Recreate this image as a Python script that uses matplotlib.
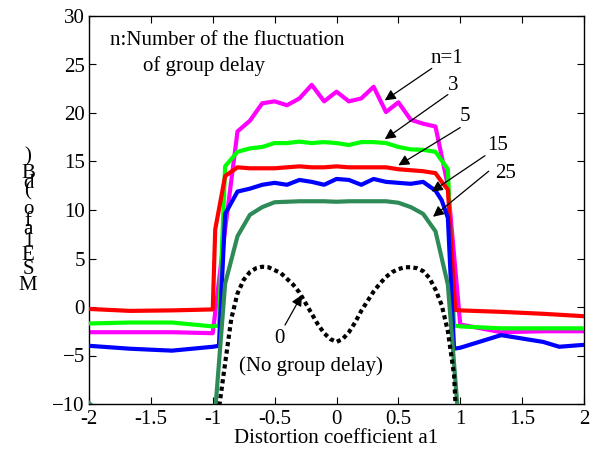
import matplotlib
matplotlib.use("Agg")
import matplotlib.pyplot as plt

plt.rcParams["font.family"] = ["Liberation Serif", "DejaVu Serif"]

# n = 1
x_n1 = [-2, -1.67, -1.33, -1.0, -0.9, -0.8, -0.7, -0.6, -0.5, -0.4, -0.3, -0.2, -0.1, 0.0,
        0.1, 0.2, 0.3, 0.4, 0.5, 0.6, 0.7, 0.8, 0.9, 1.0, 1.33, 1.67, 2]
y_n1 = [-2.6, -2.6, -2.6, -2.7, 8.0, 18.1, 19.2, 21.0, 21.2, 20.8, 21.5, 22.9, 21.2, 22.2,
        21.2, 21.5, 22.7, 20.1, 21.1, 19.3, 18.9, 18.6, 12.5, -1.8, -2.6, -2.5, -2.5]

# n = 3
x_n3 = [-2, -1.67, -1.33, -1.0, -0.95, -0.9, -0.8, -0.7, -0.6, -0.5, -0.4, -0.3, -0.2, -0.1, 0.0,
        0.1, 0.2, 0.3, 0.4, 0.5, 0.6, 0.7, 0.8, 0.85, 0.9, 0.95, 1.0, 1.33, 1.67, 2]
y_n3 = [-1.7, -1.6, -1.6, -2.0, -1.9, 14.5, 16.0, 16.35, 16.5, 16.9, 16.9, 17.05, 16.9, 17.0, 16.9,
        16.7, 17.0, 17.0, 16.9, 16.5, 16.25, 16.2, 16.0, 15.1, 14.2, -1.9, -2.0, -2.2, -2.2, -2.2]

# n = 5
x_n5 = [-2, -1.67, -1.33, -1.0, -0.98, -0.9, -0.8, -0.7, -0.6, -0.5, -0.4, -0.3, -0.2, -0.1, 0.0,
        0.1, 0.2, 0.3, 0.4, 0.5, 0.6, 0.7, 0.8, 0.85, 0.9, 0.96, 1.0, 1.33, 1.67, 2]
y_n5 = [-0.2, -0.4, -0.35, -0.25, 8.0, 13.5, 14.4, 14.3, 14.3, 14.3, 14.4, 14.5, 14.4, 14.4, 14.5,
        14.4, 14.4, 14.4, 14.4, 14.2, 14.1, 14.0, 13.8, 12.9, 12.1, -0.3, -0.35, -0.5, -0.7, -0.95]

# n = 15
x_n15 = [-2, -1.67, -1.33, -1.0, -0.95, -0.9, -0.8, -0.7, -0.6, -0.5, -0.4, -0.3, -0.2, -0.1, 0.0,
         0.1, 0.2, 0.3, 0.4, 0.5, 0.6, 0.7, 0.8, 0.85, 0.9, 0.95, 1.0, 1.33, 1.67, 1.8, 2]
y_n15 = [-4.0, -4.3, -4.5, -4.1, -4.0, 9.6, 11.9, 12.2, 12.6, 12.8, 12.6, 13.1, 12.9, 12.6, 13.2,
         13.1, 12.6, 13.2, 12.9, 12.8, 12.7, 12.9, 12.0, 11.0, 9.2, -4.3, -4.2, -2.9, -3.6, -4.1, -3.9]

# n = 25
x_n25 = [-2, -1.67, -1.0, -0.9, -0.8, -0.7, -0.6, -0.5, -0.4, -0.3, -0.2, -0.1, 0.0,
         0.1, 0.2, 0.3, 0.4, 0.5, 0.6, 0.7, 0.8, 0.9, 1.0, 1.5, 2]
y_n25 = [-9.9, -14.0, -14.0, 2.4, 7.3, 9.5, 10.3, 10.8, 10.85, 10.9, 10.9, 10.9, 10.85,
         10.9, 10.9, 10.9, 10.9, 10.75, 10.3, 9.6, 7.8, 2.3, -14.0, -14.0, -14.0]

# n = 0 (no group delay)
x_n0 = [-1.0, -0.95, -0.9, -0.85, -0.8, -0.75, -0.7, -0.65, -0.6, -0.55, -0.5, -0.45, -0.4, -0.35,
        -0.3, -0.25, -0.2, -0.15, -0.1, -0.05, 0.0, 0.05, 0.1, 0.15, 0.2, 0.25, 0.3, 0.35, 0.4,
        0.45, 0.5, 0.55, 0.6, 0.65, 0.7, 0.75, 0.8, 0.85, 0.9, 0.95, 1.0]
y_n0 = [-20.0, -10.5, -5.8, -1.2, 1.4, 2.8, 3.6, 4.0, 4.15, 4.1, 3.8, 3.5, 2.9, 2.3,
        1.5, 0.4, -0.7, -1.8, -2.7, -3.3, -3.6, -3.3, -2.6, -1.6, -0.4, 0.6, 1.6, 2.4, 3.1,
        3.6, 3.9, 4.1, 4.1, 4.0, 3.7, 3.0, 1.8, 0.2, -2.5, -7.0, -20.0]

x_ticks = [-2, -1.5, -1, -0.5, 0, 0.5, 1, 1.5, 2]
x_tick_labels = ["-2", "-1.5", "-1", "-0.5", "0", "0.5", "1", "1.5", "2"]
y_ticks = [-10, -5, 0, 5, 10, 15, 20, 25, 30]

# (label, text position, arrow tail, arrow tip)
annotations = [
    ("n=1", (0.893, 25.6), (0.77, 24.6), (0.39, 21.3)),
    ("3", (0.94, 22.8), (0.90, 21.9), (0.39, 17.3)),
    ("5", (1.04, 19.6), (1.00, 18.5), (0.50, 14.6)),
    ("15", (1.30, 16.7), (1.20, 15.6), (0.77, 11.9)),
    ("25", (1.37, 13.8), (1.23, 14.0), (0.78, 9.3)),
    ("0", (-0.465, -3.25), (-0.416, -1.86), (-0.28, 1.24)),
]

# vertical y label as it appears: characters top to bottom with pixel rows
ylabel_chars = [")", "B", "d", "(", "o", "f", "a", "1", "E", "S", "M"]
ylabel_rows = [157, 174, 184, 191, 210, 221, 230, 241, 256, 269, 286]

fs = 15

fig = plt.figure(figsize=(6.04, 4.57), dpi=100)
ax = fig.add_axes([89 / 604, 53 / 457, 495 / 604, 388 / 457])

lw = 3.0
ax.plot(x_n1, y_n1, color="#ff00ff", lw=lw, zorder=2)
ax.plot(x_n3, y_n3, color="#00ff00", lw=lw, zorder=3)
ax.plot(x_n5, y_n5, color="#ff0000", lw=lw, zorder=4)
ax.plot(x_n15, y_n15, color="#0000ff", lw=lw, zorder=5)
ax.plot(x_n25, y_n25, color="#2e8b57", lw=lw, zorder=6)
ax.plot(x_n0, y_n0, color="black", lw=3.0, linestyle=(0, (1, 0.8)),
        dash_capstyle="butt", zorder=7)

ax.set_xlim(-2, 2)
ax.set_ylim(-10, 30)
ax.set_xticks(x_ticks)
ax.set_xticklabels(x_tick_labels)
ax.set_yticks(y_ticks)
ax.tick_params(direction="in", top=True, right=True, length=5, width=0.8,
               labelsize=fs, pad=3)
ax.tick_params(axis="x", pad=4)
for sp in ax.spines.values():
    sp.set_linewidth(1.0)

ax.set_xlabel("Distortion coefficient a1", fontsize=fs, labelpad=0)

for label, txt, tail, tip in annotations:
    ax.annotate("", xy=tip, xytext=tail,
                arrowprops=dict(arrowstyle="-|>", color="black", lw=0.9,
                                mutation_scale=16, shrinkA=0, shrinkB=0),
                zorder=9)
    ax.text(txt[0], txt[1], label, fontsize=fs, ha="center", va="center", zorder=9)

ax.text(-0.21, -6.1, "(No group delay)", fontsize=fs, ha="center", va="center")
ax.text(-1.83, 27.5, "n:Number of the fluctuation", fontsize=fs, ha="left", va="center")
ax.text(-1.565, 24.85, "of group delay", fontsize=fs, ha="left", va="center")

for ch, row in zip(ylabel_chars, ylabel_rows):
    fig.text(28 / 604, 1 - row / 457, ch, fontsize=fs, ha="center", va="center")

fig.savefig("out.png", dpi=100)
